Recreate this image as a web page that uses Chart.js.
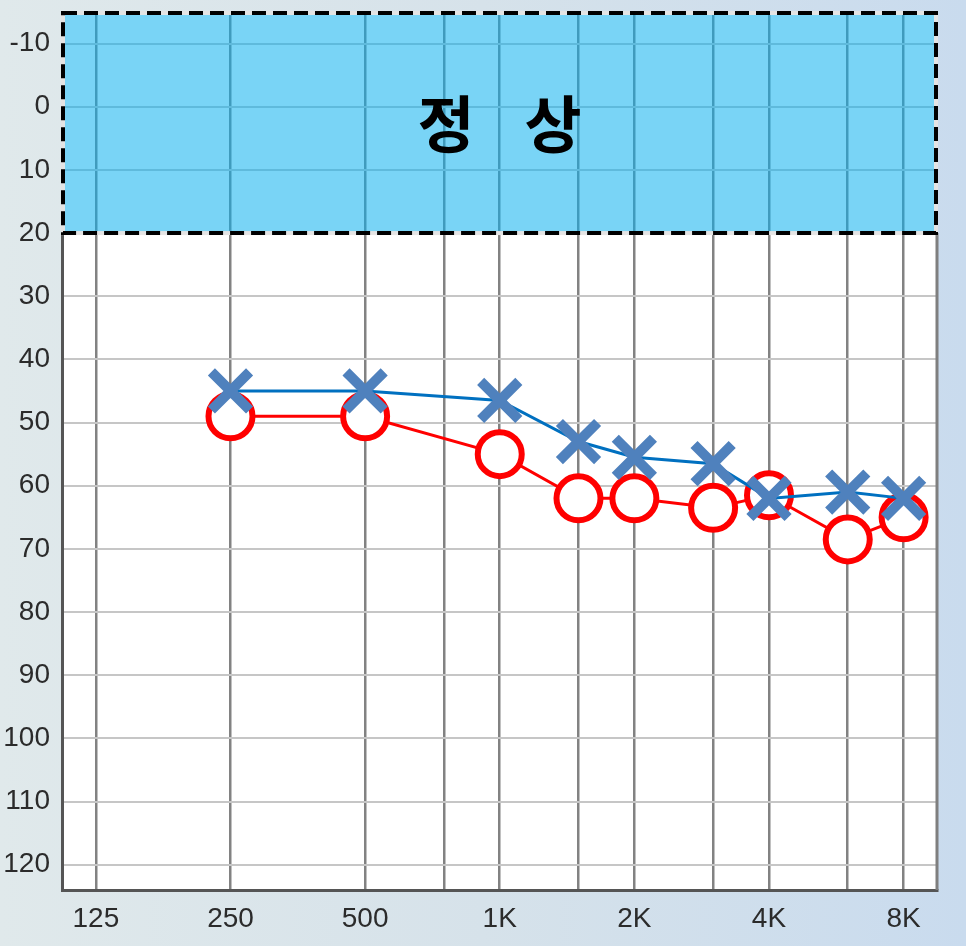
<!DOCTYPE html>
<html>
<head>
<meta charset="utf-8">
<script src="https://cdn.jsdelivr.net/npm/chart.js@4"></script>
<style>
  html, body { margin: 0; padding: 0; }
  body { width: 966px; height: 946px; background: linear-gradient(to right, #e0e9eb 0%, #d6e2ea 50%, #c9dbee 100%); }
  canvas { display: block; }
</style>
</head>
<body>
<canvas id="audio" width="966" height="946"></canvas>
<script>
// frequencies (Hz) and hearing levels (dB)
const freqs = [250, 500, 1000, 1500, 2000, 3000, 4000, 6000, 8000];
const leftEar = [45, 45, 46.5, 53, 55.5, 56.5, 62, 61, 62];   // blue X
const rightEar = [49, 49, 55, 62, 62, 63.5, 61.5, 68.5, 65];  // red O

const xTickValues = [125, 250, 500, 750, 1000, 1500, 2000, 3000, 4000, 6000, 8000];
const xTickLabels = ['125', '250', '500', '', '1K', '', '2K', '', '4K', '', '8K'];
const yTickValues = [-10, 0, 10, 20, 30, 40, 50, 60, 70, 80, 90, 100, 110, 120];

const normalLimit = 20;
const normalText = '정 상';

const tickFont = { family: "'Liberation Sans Narrow', 'Liberation Sans', Arial, sans-serif", size: 28 };

const toPoints = (vals) => freqs.map((f, i) => ({ x: f, y: vals[i] }));

const noPad = (scale) => {
  scale.paddingTop = 0;
  scale.paddingBottom = 0;
  scale.paddingLeft = 0;
  scale.paddingRight = 0;
};

const areaPlugin = {
  id: 'area',
  beforeDraw(chart) {
    const { ctx, chartArea: a } = chart;
    ctx.save();
    ctx.fillStyle = '#ffffff';
    ctx.fillRect(a.left, a.top, a.right - a.left, a.bottom - a.top);
    ctx.restore();
  },
  beforeDatasetsDraw(chart) {
    const { ctx, chartArea: a, scales } = chart;
    const yb = scales.y.getPixelForValue(normalLimit);
    ctx.save();
    // normal hearing zone
    ctx.fillStyle = 'rgba(11, 177, 239, 0.55)';
    ctx.fillRect(a.left, a.top, a.right - a.left, yb - a.top);
    // right frame line
    ctx.strokeStyle = '#7f7f7f';
    ctx.lineWidth = 3;
    ctx.beginPath();
    ctx.moveTo(a.right, yb);
    ctx.lineTo(a.right, a.bottom);
    ctx.stroke();
    // dashed box
    ctx.strokeStyle = '#e4e4e4';
    ctx.lineWidth = 4;
    ctx.strokeRect(a.left + 1, a.top + 1, a.right - a.left - 2, yb - a.top - 1);
    ctx.strokeStyle = '#000000';
    ctx.setLineDash([14, 7]);
    ctx.strokeRect(a.left + 1, a.top + 1, a.right - a.left - 2, yb - a.top - 1);
    ctx.setLineDash([]);
    // label
    ctx.fillStyle = '#000000';
    ctx.font = "bold 62px 'Noto Sans CJK KR', sans-serif";
    ctx.textAlign = 'center';
    ctx.textBaseline = 'middle';
    ctx.letterSpacing = '18px';
    ctx.fillText(normalText, (a.left + a.right) / 2 + 9, (a.top + yb) / 2 + 2);
    ctx.restore();
  }
};

new Chart(document.getElementById('audio'), {
  type: 'line',
  data: {
    datasets: [
      {
        label: 'Left',
        data: toPoints(leftEar),
        borderColor: '#0070c0',
        borderWidth: 3,
        pointStyle: 'crossRot',
        pointRadius: 27,
        pointBorderWidth: 10,
        pointBorderColor: '#4f81bd',
        pointBackgroundColor: '#4f81bd',
        tension: 0
      },
      {
        label: 'Right',
        data: toPoints(rightEar),
        borderColor: '#ff0000',
        borderWidth: 3,
        pointStyle: 'circle',
        pointRadius: 22,
        pointBorderWidth: 6,
        pointBorderColor: '#ff0000',
        pointBackgroundColor: '#ffffff',
        tension: 0
      }
    ]
  },
  options: {
    responsive: false,
    animation: false,
    layout: { autoPadding: false, padding: { top: 12, right: 29, left: 0, bottom: 0 } },
    plugins: {
      legend: { display: false },
      tooltip: { enabled: false }
    },
    scales: {
      x: {
        type: 'logarithmic',
        min: 105,
        max: 9500,
        afterBuildTicks: (scale) => { scale.ticks = xTickValues.map(v => ({ value: v })); },
        afterFit: (scale) => { scale.height = 56; noPad(scale); },
        grid: { color: '#828282', lineWidth: 2.5, drawTicks: false },
        border: { color: '#555555', width: 3 },
        ticks: {
          autoSkip: false,
          maxRotation: 0,
          padding: 12,
          color: '#2b2b2b',
          font: tickFont,
          callback: (v) => xTickLabels[xTickValues.indexOf(v)]
        }
      },
      y: {
        type: 'linear',
        reverse: true,
        min: -15,
        max: 124,
        afterBuildTicks: (scale) => { scale.ticks = yTickValues.map(v => ({ value: v })); },
        afterFit: (scale) => { scale.width = 62; noPad(scale); },
        grid: { color: '#c6c6c6', lineWidth: 2, drawTicks: false },
        border: { color: '#555555', width: 3 },
        ticks: {
          padding: 12,
          color: '#2b2b2b',
          font: tickFont
        }
      }
    }
  },
  plugins: [areaPlugin]
});
</script>
</body>
</html>
